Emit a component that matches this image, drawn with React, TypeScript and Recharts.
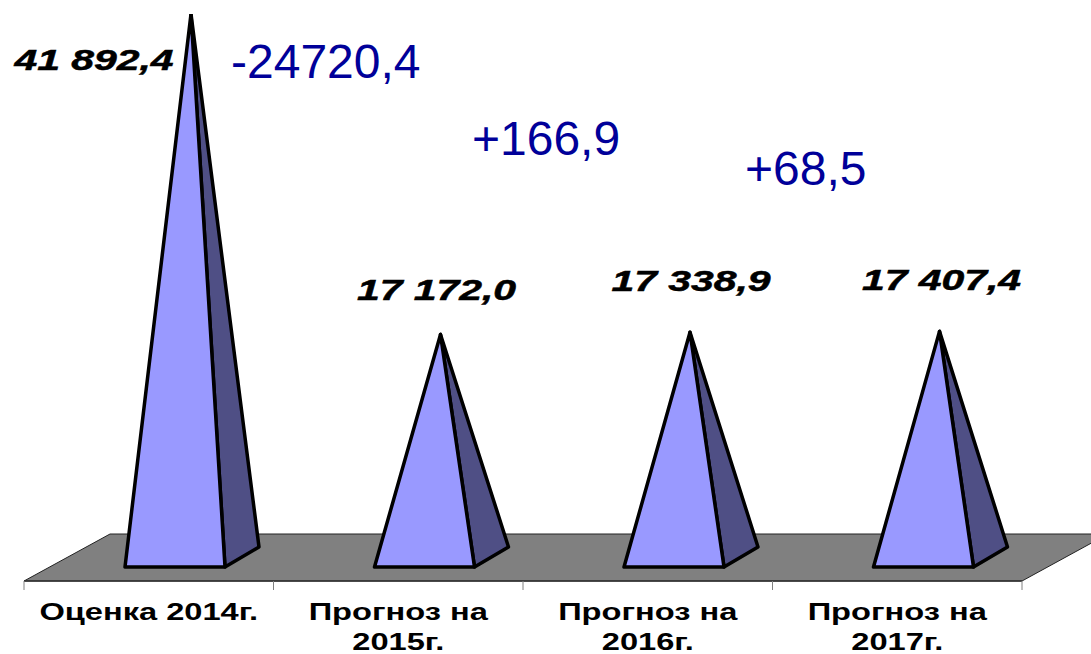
import React from "react";
import { BarChart, Bar, XAxis, YAxis, LabelList, usePlotArea } from "recharts";

const categories = ["Оценка 2014г.", "Прогноз на 2015г.", "Прогноз на 2016г.", "Прогноз на 2017г."];
const values = [41892.4, 17172.0, 17338.9, 17407.4];
const valueLabels = ["41 892,4", "17 172,0", "17 338,9", "17 407,4"];
const changes = ["-24720,4", "+166,9", "+68,5"];

const chartData = categories.map((name, i) => ({ name, value: values[i], label: valueLabels[i] }));

// hand placed in the original, so not tied to the bar tops
const labelOffsets = [
  [-55, 56],
  [38, -34],
  [43, -41],
  [44, -41],
];
const changePositions = [
  [231, 78],
  [472, 155],
  [745, 185],
];

const FONT = '"Liberation Sans", Arial, sans-serif';

function Pyramid(props: any) {
  const { x, y, width, height } = props;
  const zero = y + height;
  const left = x + 26;
  const right = left + width;
  const front = zero + 10;
  const apexX = left + width / 2 + 16;
  return (
    <g stroke="#000" strokeWidth={3.5} strokeLinejoin="round">
      <polygon points={`${right},${front} ${right + 34},${zero - 10} ${apexX},${y}`} fill="#4F4F85" />
      <polygon points={`${left},${front} ${right},${front} ${apexX},${y}`} fill="#9999FF" />
    </g>
  );
}

function Floor() {
  const plot = usePlotArea();
  if (!plot) return null;
  const { x, y, width, height } = plot;
  const bottom = y + height;
  const right = x + width;
  const step = width / categories.length;
  return (
    <g>
      <polygon
        points={`${x},${bottom} ${x + 86},${bottom - 47} ${right + 86},${bottom - 47} ${right},${bottom}`}
        fill="#808080"
        stroke="#222"
        strokeWidth={1}
      />
      <line x1={x} y1={bottom} x2={right} y2={bottom} stroke="#333" strokeWidth={1.5} />
      {[0, 1, 2, 3, 4].map((i) => (
        <line key={i} x1={x + i * step} y1={bottom} x2={x + i * step} y2={bottom + 9} stroke="#808080" strokeWidth={1} />
      ))}
    </g>
  );
}

function CategoryTick(props: any) {
  const { x, y, payload } = props;
  const text: string = payload.value;
  const lines = text.startsWith("Прогноз") ? ["Прогноз на", text.replace("Прогноз на ", "")] : [text];
  return (
    <g>
      {lines.map((line, i) => (
        <text
          key={line}
          transform={`translate(${x},${y + 31 + i * 30}) scale(1.36,1)`}
          textAnchor="middle"
          fontFamily={FONT}
          fontWeight="bold"
          fontSize={24}
          fill="#000"
        >
          {line}
        </text>
      ))}
    </g>
  );
}

function ValueLabel(props: any) {
  const { x, y, width, index, value } = props;
  const [dx, dy] = labelOffsets[index];
  return (
    <text
      transform={`translate(${x + width / 2 + dx},${y + dy}) scale(1.41,1)`}
      textAnchor="middle"
      fontFamily={FONT}
      fontWeight="bold"
      fontStyle="italic"
      fontSize={29}
      fill="#000"
      stroke="#000"
      strokeWidth={0.5}
    >
      {value}
    </text>
  );
}

export default function App() {
  return (
    <div style={{ position: "absolute", left: 0, top: 0, width: 1091, height: 654, overflow: "hidden", background: "#fff" }}>
      <BarChart
        width={1091}
        height={654}
        data={chartData}
        margin={{ top: 14, right: 69, bottom: 0, left: 24 }}
        barCategoryGap={0}
      >
        <Floor />
        <XAxis dataKey="name" axisLine={false} tickLine={false} interval={0} tick={<CategoryTick />} height={73} />
        <YAxis hide domain={[-1852, 41892.4]} allowDataOverflow />
        <Bar dataKey="value" barSize={100} shape={<Pyramid />} isAnimationActive={false}>
          <LabelList dataKey="label" content={<ValueLabel />} />
        </Bar>
        {changes.map((c, i) => (
          <text key={c} x={changePositions[i][0]} y={changePositions[i][1]} fontFamily={FONT} fontSize={48} fill="#000099">
            {c}
          </text>
        ))}
      </BarChart>
    </div>
  );
}
